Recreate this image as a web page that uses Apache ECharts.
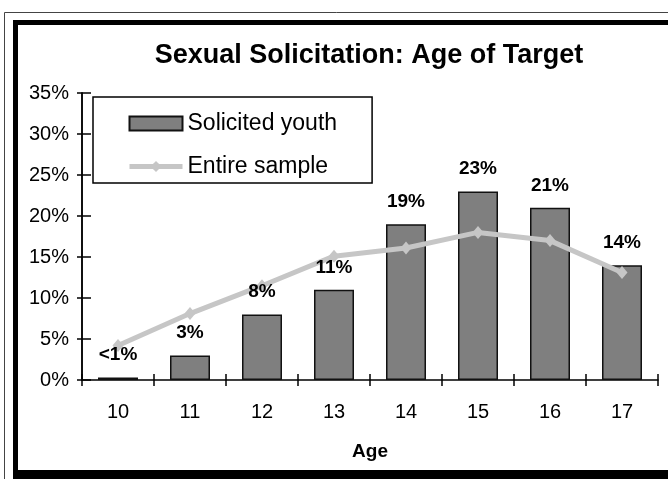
<!DOCTYPE html>
<html><head><meta charset="utf-8">
<script src="https://cdn.jsdelivr.net/npm/echarts@6/dist/echarts.min.js"></script>
<style>html,body{margin:0;padding:0;background:#fff}#c{width:668px;height:479px}</style>
</head><body><div id="c"></div>
<script>
const categories = ['10','11','12','13','14','15','16','17'];
const solicitedYouth = [0.3, 3, 8, 11, 19, 23, 21, 14];
const solicitedLabels = ['<1%','3%','8%','11%','19%','23%','21%','14%'];
const entireSample = [4.2, 8.1, 11.5, 15.1, 16.1, 18, 17, 13.1];
const yTicks = [0, 5, 10, 15, 20, 25, 30, 35];

const chart = echarts.init(document.getElementById('c'), null, {renderer:'canvas'});
const font = 'Liberation Sans, Arial, sans-serif';
const lineColor = '#c6c6c6';
const baseYAxis = {
  type:'value', min:yTicks[0], max:yTicks[yTicks.length-1], interval:yTicks[1]-yTicks[0],
  axisLine:{show:true, lineStyle:{color:'#000', width:1.5}},
  splitLine:{show:false}
};
chart.setOption({
  backgroundColor:'#fff',
  animation:false,
  title:{text:'Sexual Solicitation: Age of Target', left:364, textAlign:'center', top:37,
    textStyle:{fontFamily:font, fontWeight:'bold', fontSize:27, color:'#000'}},
  legend:{
    left:93, top:97, orient:'vertical',
    padding:[15,35,5,34],
    itemWidth:53, itemHeight:14, itemGap:20,
    borderColor:'#000', borderWidth:1.5, backgroundColor:'#fff',
    textStyle:{fontFamily:font, fontSize:23, color:'#000', padding:[0,0,0,0]},
    data:[
      {name:'Solicited youth', icon:'rect'},
      {name:'Entire sample', lineStyle:{width:5, color:lineColor}, itemStyle:{color:lineColor}}
    ]
  },
  grid:{left:82, right:10, top:93, bottom:99},
  xAxis:[{
    type:'category', data:categories,
    name:'Age', nameLocation:'middle', nameGap:62,
    nameTextStyle:{fontFamily:font, fontWeight:'bold', fontSize:19, color:'#000'},
    axisLine:{lineStyle:{color:'#000', width:1.5}},
    axisTick:{show:true, length:6, lineStyle:{color:'#000', width:1.5}},
    axisLabel:{fontFamily:font, fontSize:20, color:'#000', margin:22}
  },{
    type:'category', data:categories, position:'bottom', gridIndex:0,
    axisLine:{show:false},
    axisTick:{show:true, inside:true, length:6, lineStyle:{color:'#000', width:1.5}},
    axisLabel:{show:false}
  }],
  yAxis:[Object.assign({}, baseYAxis, {
    axisTick:{show:true, length:5, lineStyle:{color:'#000', width:1.5}},
    axisLabel:{fontFamily:font, fontSize:20, color:'#000', margin:13, formatter:'{value}%'}
  }), Object.assign({}, baseYAxis, {
    position:'left',
    axisTick:{show:true, inside:true, length:9, lineStyle:{color:'#000', width:1.5}},
    axisLabel:{show:false}
  })],
  series:[{
    name:'Solicited youth', type:'bar', data:solicitedYouth, barWidth:40,
    itemStyle:{color:'#7f7f7f', borderColor:'#111', borderWidth:1.5},
    z:2
  },{
    name:'Entire sample', type:'line', data:entireSample,
    symbol:'diamond', symbolSize:[11,13],
    lineStyle:{color:lineColor, width:5},
    itemStyle:{color:lineColor},
    z:3
  },{
    name:'labels', type:'scatter', data:solicitedYouth,
    symbolSize:0, silent:true,
    itemStyle:{opacity:1, color:'#000'},
    label:{show:true, position:'top', distance:13, opacity:1,
      fontFamily:font, fontWeight:'bold', fontSize:19, color:'#000',
      formatter:p=>solicitedLabels[p.dataIndex]},
    z:5
  }],
  graphic:[
    {type:'rect', shape:{x:4.5, y:12.5, width:680, height:480}, style:{fill:null, stroke:'#444', lineWidth:1}, silent:true},
    {type:'rect', shape:{x:15.5, y:22.5, width:680, height:451}, style:{fill:null, stroke:'#000', lineWidth:5}, silent:true},
    {type:'rect', shape:{x:13, y:470, width:680, height:9}, style:{fill:'#000'}, silent:true}
  ]
});
</script></body></html>
